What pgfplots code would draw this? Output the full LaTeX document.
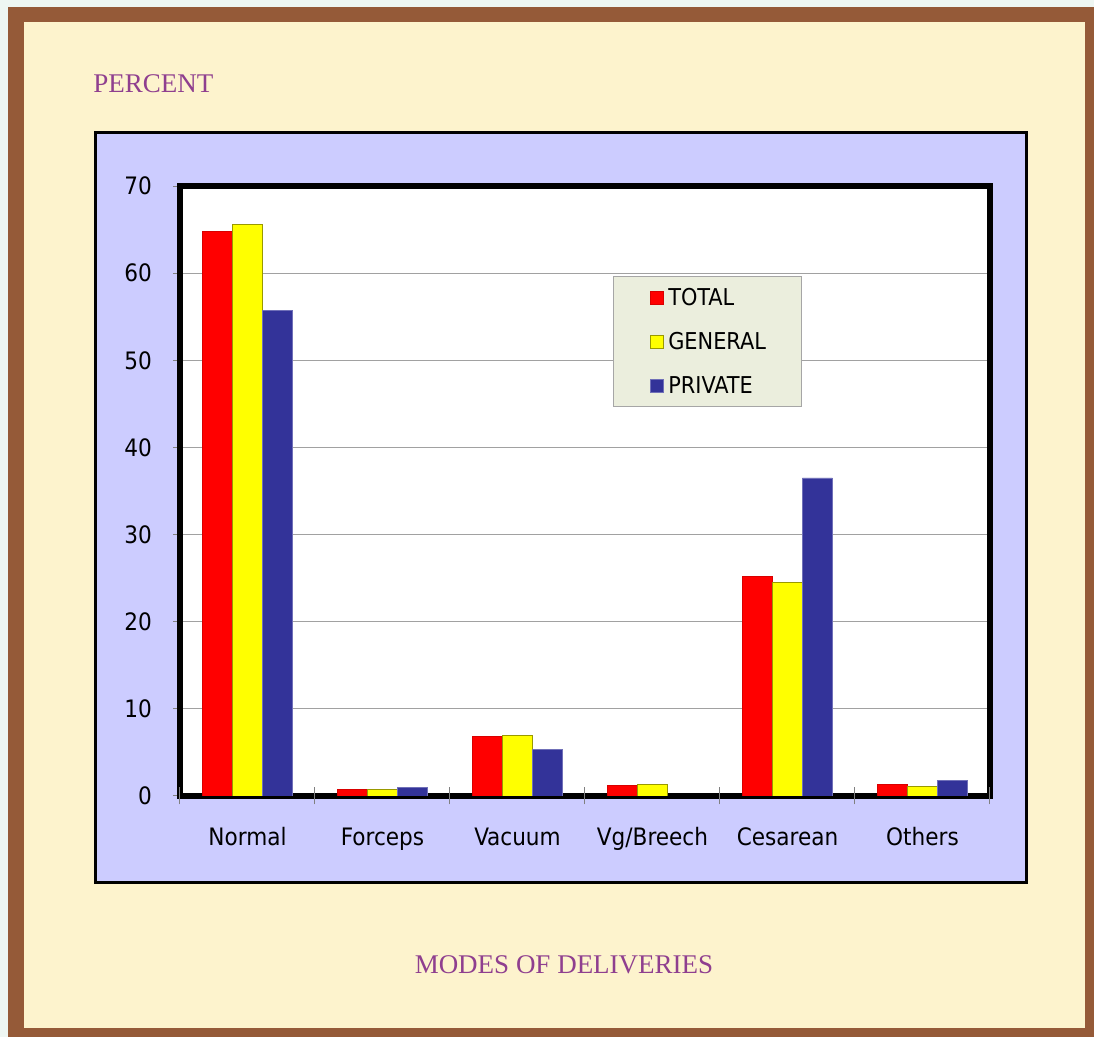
\documentclass[border=0pt]{standalone}
\usepackage{fontspec}
\setmainfont{Liberation Serif}
\newfontfamily\tahoma{DejaVu Sans Condensed}
\usepackage{pgfplots}
\pgfplotsset{compat=1.18}

\definecolor{pale}{HTML}{EEF6F2}
\definecolor{brownframe}{HTML}{955A38}
\definecolor{cream}{HTML}{FDF3CD}
\definecolor{lav}{HTML}{CCCCFF}
\definecolor{purp}{HTML}{8F3F8F}
\definecolor{legbg}{HTML}{EBEEDD}
\definecolor{cred}{HTML}{FF0000}
\definecolor{cyel}{HTML}{FFFF00}
\definecolor{cblu}{HTML}{333399}

\begin{document}
\begin{tikzpicture}
% background, 1 unit = 1 reference pixel
\begin{scope}[x=0.5pt,y=-0.5pt]
  \fill[pale] (0,0) rectangle (1094,1037);
  \fill[brownframe] (8,7) rectangle (1094,1037);
  \fill[cream] (24,22) rectangle (1085,1028);
  \fill[lav, draw=black, line width=1.5pt] (95,133) rectangle (1026,883);
  \fill[white] (180,186) rectangle (990,796);
  \node[anchor=base west, text=purp, font=\fontsize{13.5}{16}\selectfont, inner sep=0pt]
    at (93,93) {PERCENT};
  \node[anchor=base, text=purp, font=\fontsize{13.5}{16}\selectfont, inner sep=0pt]
    at (564,973) {MODES OF DELIVERIES};
\end{scope}

\begin{axis}[
    at={(90pt,-398pt)}, anchor=south west,
    scale only axis,
    width=405pt, height=305pt,
    ybar=0pt, bar width=15pt,
    xmin=-0.5, xmax=5.5,
    ymin=0, ymax=70,
    ytick={0,10,...,70},
    xtick={0,...,5},
    xticklabels={Normal,Forceps,Vacuum,Vg/Breech,Cesarean,Others},
    xtick style={draw=none},
    extra x ticks={-0.5,0.5,1.5,2.5,3.5,4.5,5.5},
    extra x tick labels={},
    extra x tick style={major tick length=8.5pt, tick align=center,
        xtick style={draw=gray, line width=0.5pt}},
    ytick style={draw=gray, line width=0.5pt},
    tick align=outside, major tick length=3.5pt,
    tick pos=left,
    ymajorgrids,
    major grid style={draw=black!37, line width=0.5pt},
    axis line style={line width=3pt, line join=miter},
    ticklabel style={font=\tahoma\fontsize{12}{14}\selectfont},
    /pgf/number format/assume math mode=true,
    yticklabel style={anchor=east, xshift=-7pt},
    xticklabel style={anchor=base, yshift=-21.5pt},
    legend style={at={(0.5346,0.8525)}, anchor=north west,
        fill=legbg, draw=black!35, line width=0.5pt,
        inner xsep=18pt, inner ysep=6.5pt,
        row sep=14pt, column sep=2.5pt,
        font=\tahoma\fontsize{11.6}{13}\selectfont,
        nodes={text height=8pt, text depth=0pt, inner sep=0pt, anchor=west}},
    legend cell align=left,
    legend image code/.code={\draw[#1, line width=0.4pt] (0pt,-3.25pt) rectangle (6.5pt,3.25pt);},
]
\addplot[fill=cred, draw=cred!85!black, line width=0.4pt] coordinates {
    (0,64.8) (1,0.7) (2,6.8) (3,1.2) (4,25.2) (5,1.3)};
\addplot[fill=cyel, draw=cyel!60!black, line width=0.4pt] coordinates {
    (0,65.6) (1,0.8) (2,7.0) (3,1.3) (4,24.5) (5,1.1)};
\addplot[fill=cblu, draw=cblu!70!white, line width=0.4pt] coordinates {
    (0,55.7) (1,1.0) (2,5.3) (4,36.5) (5,1.8)};
\legend{TOTAL,GENERAL,PRIVATE}
\end{axis}
\end{tikzpicture}
\end{document}
